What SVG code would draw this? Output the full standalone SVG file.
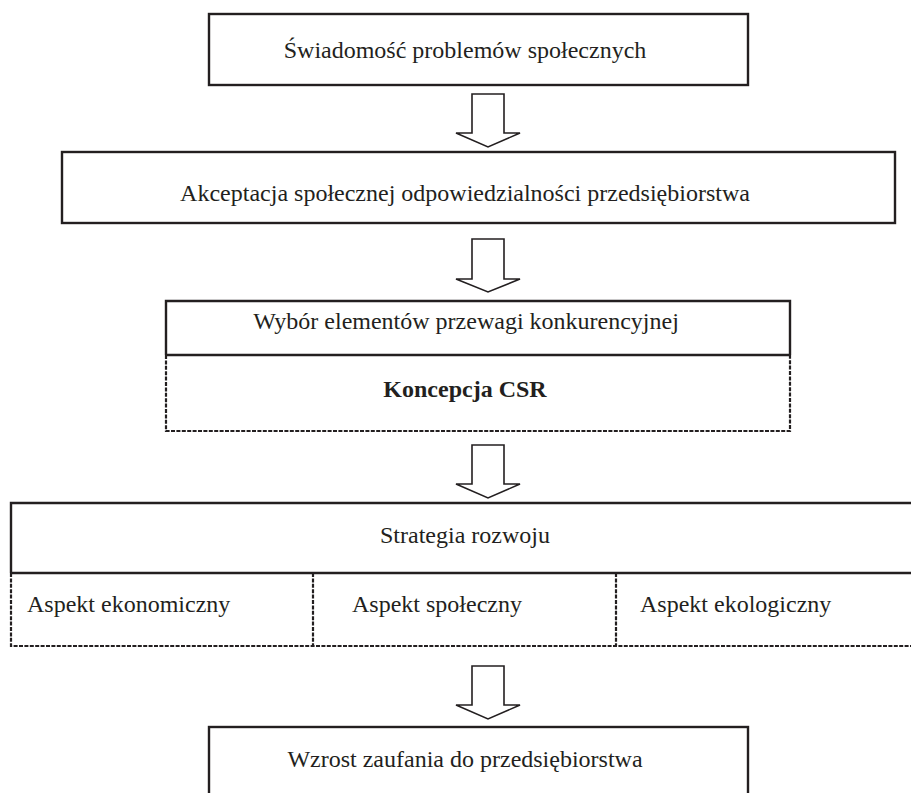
<svg xmlns="http://www.w3.org/2000/svg" width="911" height="793" viewBox="0 0 911 793">
<style>
  .box { fill: #ffffff; stroke: #231f20; stroke-width: 2.4; }
  .solid { fill: none; stroke: #231f20; stroke-width: 2.4; }
  .dash { fill: none; stroke: #231f20; stroke-width: 2.2; stroke-dasharray: 4 1.4; }
  .arrow { fill: #ffffff; stroke: #231f20; stroke-width: 1.6; stroke-linejoin: miter; }
  .t { font-family: "Liberation Serif", "Times New Roman", serif; font-size: 24px; fill: #231f20; }
  .c { text-anchor: middle; }
  .b { font-weight: bold; }
</style>
<rect width="911" height="793" fill="#ffffff"/>

<g id="n1">
  <rect class="box" x="209" y="14" width="539" height="71"/>
  <text class="t c" x="465" y="58">Świadomość problemów społecznych</text>
</g>

<g id="n2">
  <rect class="box" x="62" y="152" width="833" height="71"/>
  <text class="t c" x="465" y="201">Akceptacja społecznej odpowiedzialności przedsiębiorstwa</text>
</g>

<g id="n3">
  <path class="solid" d="M166,355 V301 H790 V355 M166,355 H790"/>
  <path class="dash" d="M166,355 V431 H790 V355"/>
  <text class="t c" x="466" y="329">Wybór elementów przewagi konkurencyjnej</text>
  <text class="t c b" x="465" y="397">Koncepcja CSR</text>
</g>

<g id="n4">
  <path class="solid" d="M11,573 V503 H915 M11,573 H915"/>
  <path class="dash" d="M11,573 V646 H915 M313,573 V646 M616,573 V646"/>
  <text class="t c" x="465" y="543">Strategia rozwoju</text>
  <text class="t" x="27" y="612">Aspekt ekonomiczny</text>
  <text class="t" x="352" y="612">Aspekt społeczny</text>
  <text class="t" x="640" y="612">Aspekt ekologiczny</text>
</g>

<g id="n5">
  <rect class="box" x="209" y="727" width="539" height="80"/>
  <text class="t c" x="465" y="767">Wzrost zaufania do przedsiębiorstwa</text>
</g>

<g id="connectors">
  <polygon class="arrow" points="472,94 504,94 504,133 520,133 488,147 456,133 472,133"/>
  <polygon class="arrow" points="472,239 504,239 504,279 520,279 488,292 456,279 472,279"/>
  <polygon class="arrow" points="472,445 504,445 504,484 520,484 488,498 456,484 472,484"/>
  <polygon class="arrow" points="472,666 504,666 504,705 520,705 488,719 456,705 472,705"/>
</g>
</svg>
